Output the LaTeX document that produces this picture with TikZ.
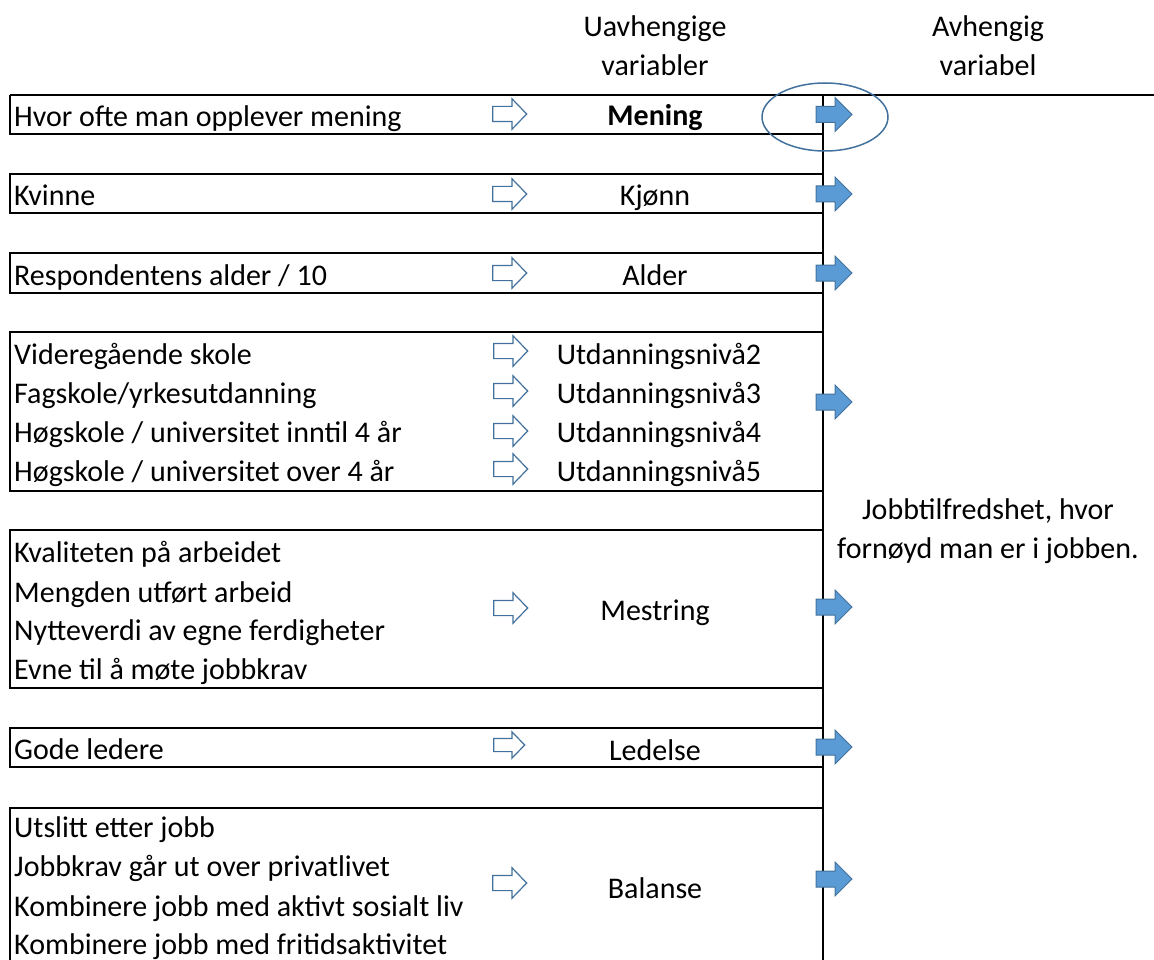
\documentclass[tikz,border=0pt]{standalone}
\usepackage{fontspec}
\setmainfont{Carlito}
\usetikzlibrary{shapes.arrows}
\definecolor{arrowline}{HTML}{41719C}
\definecolor{arrowfill}{HTML}{5B9BD5}
\begin{document}
\begin{tikzpicture}[x=1pt,y=-1pt,
  every node/.style={font=\fontsize{30}{36}\selectfont, inner sep=0pt},
  lab/.style={anchor=base west},
  mid/.style={anchor=base},
  hollow/.style={single arrow, draw=arrowline, fill=white, line width=1.2pt,
    inner xsep=0pt, inner ysep=7pt,
    minimum height=34pt, single arrow head extend=7.5pt,
    single arrow tip angle=92},
  blue/.style={single arrow, draw=arrowline, fill=arrowfill, line width=1pt,
    inner xsep=0pt, inner ysep=7.5pt,
    minimum height=36pt, single arrow head extend=9pt,
    single arrow tip angle=90},
  frame/.style={line width=2pt, black},
  ring/.style={draw=arrowline, line width=1.5pt}
]
\useasboundingbox (0,0) rectangle (1154,960);

% frames
\draw[frame] (10,95) -- (1154,95);
\draw[frame] (823,95) -- (823,962);
\draw[frame] (10,95) -- (10,134) -- (823,134);
\draw[frame] (10,174) rectangle (823,213);
\draw[frame] (10,253) rectangle (823,293);
\draw[frame] (10,332) rectangle (823,491);
\draw[frame] (10,530) rectangle (823,688);
\draw[frame] (10,728) rectangle (823,767);
\draw[frame] (10,962) -- (10,808) -- (823,808);

% headers
\node[mid] (hu1) at (655,37) {Uavhengige};
\node[mid] (hu2) at (655,76) {variabler};
\node[mid] (ha1) at (988,37) {Avhengig};
\node[mid] (ha2) at (988,76) {variabel};
\node[mid] (dep1) at (988,519) {Jobbtilfredshet, hvor};
\node[mid] (dep2) at (988,558) {fornøyd man er i jobben.};

% left labels
\node[lab] (l1) at (14,127) {Hvor ofte man opplever mening};
\node[lab] (l2) at (14,206) {Kvinne};
\node[lab] (l3) at (14,285) {Respondentens alder / 10};
\node[lab] (l4a) at (14,364) {Videregående skole};
\node[lab] (l4b) at (14,403) {Fagskole/yrkesutdanning};
\node[lab] (l4c) at (14,442) {Høgskole / universitet inntil 4 år};
\node[lab] (l4d) at (14,481) {Høgskole / universitet over 4 år};
\node[lab] (l5a) at (14,562) {Kvaliteten på arbeidet};
\node[lab] (l5b) at (14,602) {Mengden utført arbeid};
\node[lab] (l5c) at (14,640) {Nytteverdi av egne ferdigheter};
\node[lab] (l5d) at (14,679) {Evne til å møte jobbkrav};
\node[lab] (l6) at (14,759) {Gode ledere};
\node[lab] (l7a) at (14,837) {Utslitt etter jobb};
\node[lab] (l7b) at (14,876) {Jobbkrav går ut over privatlivet};
\node[lab] (l7c) at (14,916) {Kombinere jobb med aktivt sosialt liv};
\node[lab] (l7d) at (14,954) {Kombinere jobb med fritidsaktivitet};

% middle labels
\node[mid, font=\fontsize{30}{36}\selectfont\bfseries] (m1) at (655,126) {Mening};
\node[mid] (m2) at (655,206) {Kjønn};
\node[mid] (m3) at (655,285) {Alder};
\node[mid] (m4a) at (659,364) {Utdanningsnivå2};
\node[mid] (m4b) at (659,403) {Utdanningsnivå3};
\node[mid] (m4c) at (659,442) {Utdanningsnivå4};
\node[mid] (m4d) at (659,481) {Utdanningsnivå5};
\node[mid] (m5) at (655,620) {Mestring};
\node[mid] (m6) at (655,760) {Ledelse};
\node[mid] (m7) at (655,898) {Balanse};

% hollow arrows
\node[hollow] (h1) at (506,114) {};
\node[hollow] (h2) at (506,194) {};
\node[hollow] (h3) at (506,273) {};
\node[hollow] (h4a) at (507,351) {};
\node[hollow] (h4b) at (507,391) {};
\node[hollow] (h4c) at (507,431) {};
\node[hollow] (h4d) at (507,469) {};
\node[hollow] (h5) at (507,608) {};
\node[hollow, minimum height=31pt, inner ysep=6pt, single arrow head extend=6.5pt] (h6) at (506,745) {};
\node[hollow] (h7) at (506,883) {};

% blue arrows
\node[blue] (b1) at (830,114.5) {};
\node[blue] (b2) at (830,194) {};
\node[blue] (b3) at (830,273) {};
\node[blue] (b4) at (830,402) {};
\node[blue] (b5) at (830,607) {};
\node[blue] (b6) at (830,747) {};
\node[blue] (b7) at (830,879) {};

% highlight ring
\draw[ring] (825,117) ellipse [x radius=63, y radius=34];
\end{tikzpicture}
\end{document}
